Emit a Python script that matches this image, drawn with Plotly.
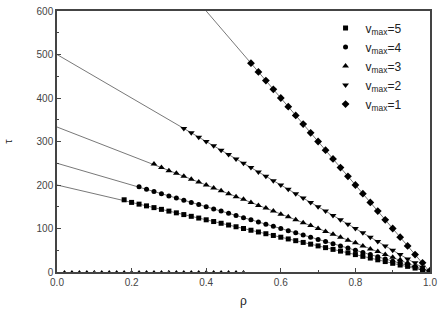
import plotly.graph_objects as go

# fitted lines tau = tau0 * (1 - rho)
line_rho = [0.0, 1.0]
line_tau = {
    5: [200, 0],
    4: [250, 0],
    3: [333.3, 0],
    2: [500, 0],
    1: [1000, 0],
}

rho_v5 = [0.18, 0.20, 0.22, 0.24, 0.26, 0.28, 0.30, 0.32, 0.34, 0.36, 0.38, 0.40, 0.42, 0.44,
          0.46, 0.48, 0.50, 0.52, 0.54, 0.56, 0.58, 0.60, 0.62, 0.64, 0.66, 0.68, 0.70, 0.72,
          0.74, 0.76, 0.78, 0.80, 0.82, 0.84, 0.86, 0.88, 0.90, 0.92, 0.94, 0.96, 0.98, 1.00]
tau_v5 = [166, 160, 156, 152, 148, 144, 140, 136, 132, 128, 124, 120, 116, 112,
          108, 104, 100, 96, 92, 88, 84, 80, 76, 72, 68, 64, 60, 56,
          52, 48, 44, 40, 36, 32, 28, 24, 20, 16, 13, 9, 5, 1]

rho_v4 = [0.22, 0.24, 0.26, 0.28, 0.30, 0.32, 0.34, 0.36, 0.38, 0.40, 0.42, 0.44, 0.46, 0.48,
          0.50, 0.52, 0.54, 0.56, 0.58, 0.60, 0.62, 0.64, 0.66, 0.68, 0.70, 0.72, 0.74, 0.76,
          0.78, 0.80, 0.82, 0.84, 0.86, 0.88, 0.90, 0.92, 0.94, 0.96, 0.98, 1.00]
tau_v4 = [196, 190, 185, 180, 175, 170, 165, 160, 155, 150, 145, 140, 135, 130,
          125, 120, 115, 110, 105, 100, 95, 90, 85, 80, 75, 70, 65, 60,
          55, 50, 45, 40, 35, 30, 25, 21, 16, 11, 6, 1]

rho_v3 = [0.26, 0.28, 0.30, 0.32, 0.34, 0.36, 0.38, 0.40, 0.42, 0.44, 0.46, 0.48, 0.50, 0.52,
          0.54, 0.56, 0.58, 0.60, 0.62, 0.64, 0.66, 0.68, 0.70, 0.72, 0.74, 0.76, 0.78, 0.80,
          0.82, 0.84, 0.86, 0.88, 0.90, 0.92, 0.94, 0.96, 0.98, 1.00]
tau_v3 = [248, 240, 233, 227, 220, 213, 207, 200, 193, 187, 180, 173, 167, 160,
          153, 147, 140, 133, 127, 120, 113, 107, 100, 93, 87, 80, 73, 67,
          60, 53, 47, 40, 34, 28, 21, 15, 8, 2]

rho_v2 = [0.34, 0.36, 0.38, 0.40, 0.42, 0.44, 0.46, 0.48, 0.50, 0.52, 0.54, 0.56, 0.58, 0.60,
          0.62, 0.64, 0.66, 0.68, 0.70, 0.72, 0.74, 0.76, 0.78, 0.80, 0.82, 0.84, 0.86, 0.88,
          0.90, 0.92, 0.94, 0.96, 0.98, 1.00]
tau_v2 = [330, 320, 310, 300, 290, 280, 270, 260, 250, 240, 230, 220, 210, 200,
          190, 180, 170, 160, 150, 140, 130, 120, 110, 100, 90, 80, 70, 60,
          50, 40, 30, 21, 11, 2]

rho_v1 = [0.52, 0.54, 0.56, 0.58, 0.60, 0.62, 0.64, 0.66, 0.68, 0.70, 0.72, 0.74, 0.76,
          0.78, 0.80, 0.82, 0.84, 0.86, 0.88, 0.90, 0.92, 0.94, 0.96, 0.98, 1.00]
tau_v1 = [480, 460, 440, 420, 400, 380, 360, 340, 320, 300, 280, 260, 240,
          220, 200, 180, 160, 140, 120, 100, 80, 60, 40, 21, 3]

# free-flow points (tau ~ 0) below the critical density
rho_low = [0.02, 0.04, 0.06, 0.08, 0.10, 0.12, 0.14, 0.16, 0.18, 0.20, 0.22, 0.24, 0.26,
           0.28, 0.30, 0.32, 0.34, 0.36, 0.38, 0.40, 0.42, 0.44, 0.46, 0.48, 0.50]
tau_low = [0] * len(rho_low)

series = [
    (5, rho_v5, tau_v5, "square", 5),
    (4, rho_v4, tau_v4, "circle", 5),
    (3, rho_v3, tau_v3, "triangle-up", 6),
    (2, rho_v2, tau_v2, "triangle-down", 6),
    (1, rho_v1, tau_v1, "diamond", 6),
]

fig = go.Figure()

for v in [5, 4, 3, 2, 1]:
    fig.add_trace(go.Scatter(
        x=line_rho, y=line_tau[v], mode="lines",
        line=dict(color="#555555", width=0.8),
        showlegend=False, hoverinfo="skip"
    ))

for v, xs, ys, sym, sz in series:
    fig.add_trace(go.Scatter(
        x=xs, y=ys, mode="markers",
        marker=dict(symbol=sym, size=sz, color="black"),
        name=f"v<sub>max</sub>=%d" % v
    ))

fig.add_trace(go.Scatter(
    x=rho_low, y=tau_low, mode="markers",
    marker=dict(symbol="triangle-up", size=4, color="black"),
    showlegend=False, cliponaxis=False
))

axis_common = dict(
    showgrid=False, zeroline=False,
    showline=True, linecolor="#444444", linewidth=1.5, mirror=True,
    ticks="inside", ticklen=4, tickcolor="#444444",
    tickfont=dict(family="Liberation Sans, Arial", size=10, color="#444444"),
)

fig.update_xaxes(
    range=[0, 1], dtick=0.2, tickformat=".1f",
    minor=dict(dtick=0.1, ticks="inside", ticklen=2, tickcolor="#444444"),
    title=dict(text="ρ", font=dict(family="Liberation Sans, Arial", size=12, color="#222222"),
               standoff=10),
    **axis_common
)
fig.update_yaxes(
    range=[0, 600], dtick=100,
    minor=dict(dtick=50, ticks="inside", ticklen=2, tickcolor="#444444"),
    title=dict(text="τ", font=dict(family="Liberation Sans, Arial", size=11, color="#222222"),
               standoff=22),
    **axis_common
)

fig.update_layout(
    width=446, height=327,
    margin=dict(l=57, r=16, t=11, b=55, autoexpand=False),
    plot_bgcolor="white", paper_bgcolor="white",
    legend=dict(
        x=0.72, y=0.99, xanchor="left", yanchor="top",
        font=dict(family="Liberation Sans, Arial", size=12, color="#222222"),
        bgcolor="rgba(0,0,0,0)", tracegroupgap=0, itemwidth=30,
    ),
)

fig.write_html("out.html", config={"displayModeBar": False},
               post_script="document.body.style.margin='0';")
